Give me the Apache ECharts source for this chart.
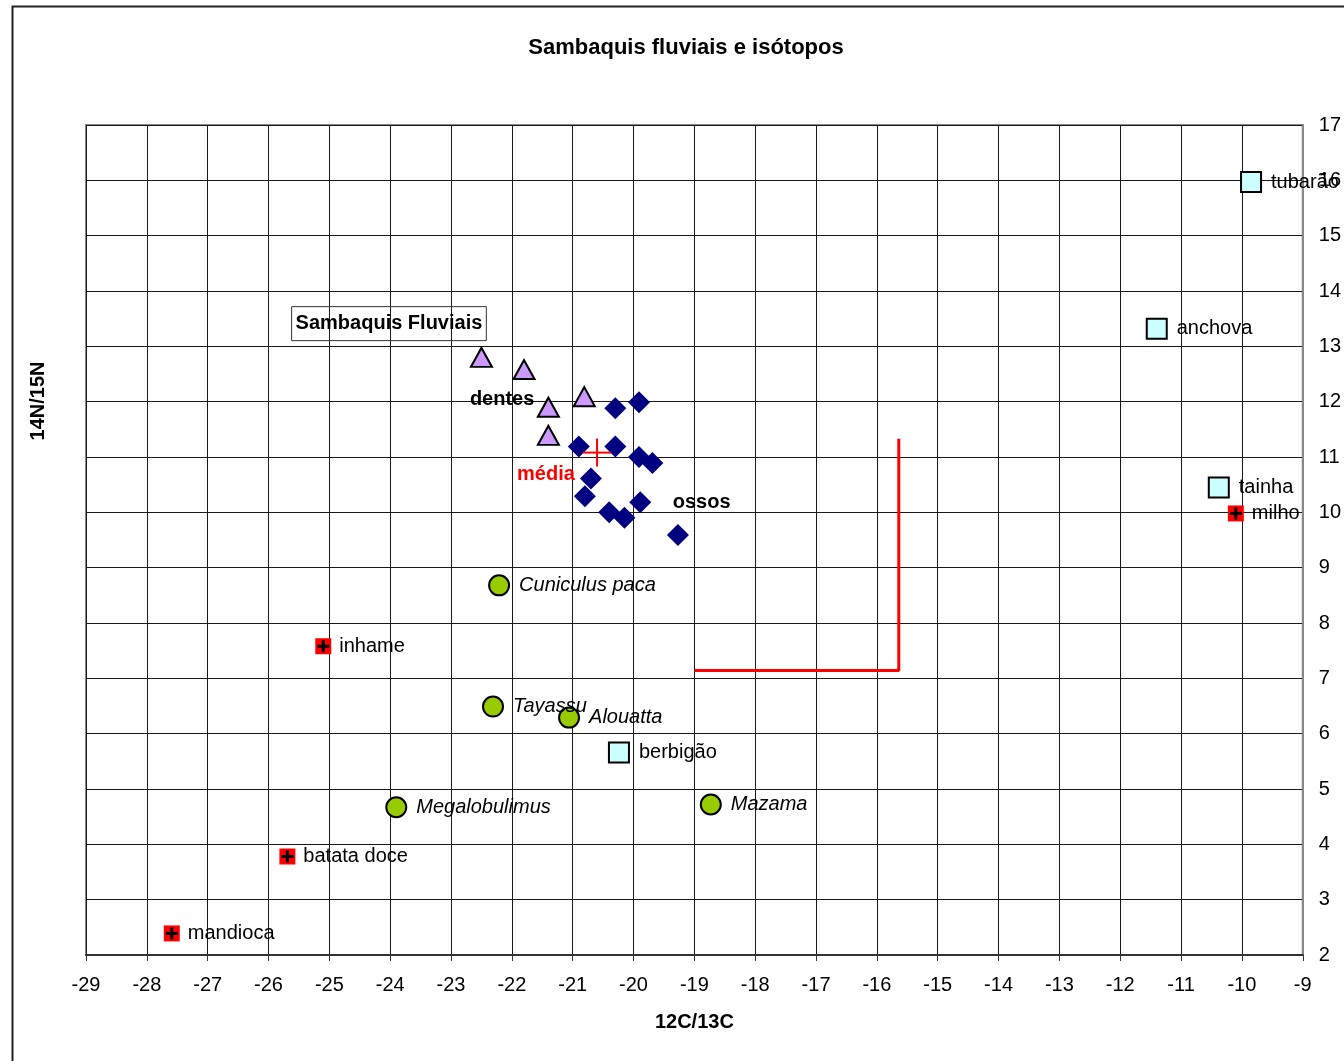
<!DOCTYPE html>
<html>
<head>
<meta charset="utf-8">
<script src="https://cdn.jsdelivr.net/npm/echarts@6/dist/echarts.min.js"></script>
<style>
html,body{margin:0;padding:0;background:#fff;}
#chart{width:1344px;height:1061px;}
</style>
</head>
<body>
<div id="chart"></div>
<script>
// ---- data ----
const fishNames = ['tubarão', 'anchova', 'tainha', 'berbigão'];
const fishX = [-9.85, -11.40, -10.38, -20.24];
const fishY = [15.97, 13.32, 10.45, 5.66];

const plantNames = ['milho', 'inhame', 'batata doce', 'mandioca'];
const plantX = [-10.10, -25.10, -25.69, -27.59];
const plantY = [9.98, 7.58, 3.78, 2.39];

const faunaNames = ['Cuniculus paca', 'Tayassu', 'Alouatta', 'Megalobulimus', 'Mazama'];
const faunaX = [-22.21, -22.31, -21.06, -23.90, -18.73];
const faunaY = [8.68, 6.49, 6.29, 4.67, 4.72];

const dentesX = [-22.50, -21.80, -21.40, -21.40, -20.81];
const dentesY = [12.80, 12.58, 11.90, 11.39, 12.09];

const ossosX = [-20.30, -19.91, -20.90, -20.30, -19.91, -19.69, -20.70, -20.80, -19.89, -20.40, -20.15, -19.27];
const ossosY = [11.88, 11.99, 11.19, 11.19, 11.00, 10.89, 10.61, 10.29, 10.18, 10.00, 9.90, 9.59];

const mediaX = [-20.60];
const mediaY = [11.08];

const lineX = [-19.0, -15.64, -15.64];
const lineY = [7.14, 7.14, 11.33];

const annoTexts = ['Sambaquis Fluviais', 'dentes', 'média', 'ossos'];
const annoX = [-24.02, -22.16, -21.44, -18.88];
const annoY = [13.41, 12.04, 10.68, 10.18];

const xTicks = { min: -29, max: -9, step: 1 };
const yTicks = { min: 2, max: 17, step: 1 };

// ---- helpers ----
const FONT = '"Liberation Sans", Arial, sans-serif';
function pts(xs, ys, names) {
  return xs.map((x, i) => ({ value: [x, ys[i]], name: names ? names[i] : '' }));
}

const chart = echarts.init(document.getElementById('chart'), null, { renderer: 'canvas' });

const labelRight = (italic) => ({
  show: true,
  position: 'right',
  distance: 9,
  formatter: p => p.name,
  color: '#000',
  fontSize: 20,
  fontFamily: FONT,
  fontStyle: italic ? 'italic' : 'normal'
});

const option = {
  animation: false,
  backgroundColor: '#fff',
  textStyle: { fontFamily: FONT },
  title: {
    text: 'Sambaquis fluviais e isótopos',
    left: 681,
    textAlign: 'center',
    top: 32,
    textStyle: { fontSize: 22, fontWeight: 'bold', color: '#000', fontFamily: FONT }
  },
  grid: {
    left: 86, top: 125, right: 37, bottom: 106,
    show: true, borderColor: '#888', borderWidth: 2, backgroundColor: 'transparent'
  },
  xAxis: {
    type: 'value',
    min: xTicks.min, max: xTicks.max, interval: xTicks.step,
    name: '12C/13C',
    nameLocation: 'middle',
    nameGap: 57,
    nameTextStyle: { fontSize: 20, fontWeight: 'bold', color: '#000', fontFamily: FONT },
    axisLine: { show: true, onZero: false, lineStyle: { color: '#333', width: 2 } },
    axisTick: { show: true, length: 6, lineStyle: { color: '#333', width: 1 } },
    axisLabel: { fontSize: 20, color: '#000', margin: 20, fontFamily: FONT },
    splitLine: { show: true, lineStyle: { color: '#1a1a1a', width: 1 } }
  },
  yAxis: {
    type: 'value',
    position: 'right',
    min: yTicks.min, max: yTicks.max, interval: yTicks.step,
    axisLine: { show: true, lineStyle: { color: '#888', width: 2 } },
    axisTick: { show: false },
    axisLabel: { fontSize: 20, color: '#000', margin: 16, align: 'left', fontFamily: FONT },
    splitLine: { show: true, lineStyle: { color: '#1a1a1a', width: 1 } }
  },
  graphic: [
    {
      type: 'rect', left: 10, top: 4, silent: true,
      shape: { width: 1400, height: 1100 },
      style: { fill: 'none', stroke: '#222', lineWidth: 2 }
    },
    {
      type: 'text', silent: true, x: 38, y: 401, rotation: Math.PI / 2,
      style: { text: '14N/15N', font: 'bold 20px "Liberation Sans", Arial, sans-serif', fill: '#000', align: 'center', verticalAlign: 'middle' }
    }
  ],
  series: [
    {
      name: 'linha', type: 'line', symbol: 'none',
      data: lineX.map((x, i) => [x, lineY[i]]),
      lineStyle: { color: '#ff0000', width: 3 }, z: 3
    },
    {
      name: 'ossos', type: 'scatter', symbol: 'diamond', symbolSize: 22,
      data: pts(ossosX, ossosY),
      itemStyle: { color: '#000080', opacity: 1 }, z: 4
    },
    {
      name: 'dentes', type: 'scatter', symbol: 'triangle', symbolSize: [21, 19],
      data: pts(dentesX, dentesY),
      itemStyle: { color: '#CC99FF', borderColor: '#000', borderWidth: 2, opacity: 1 }, z: 4
    },
    {
      name: 'peixes', type: 'scatter', symbol: 'rect', symbolSize: 20,
      data: pts(fishX, fishY, fishNames),
      itemStyle: { color: '#CCFFFF', borderColor: '#000', borderWidth: 2, opacity: 1 },
      label: labelRight(false), z: 4
    },
    {
      name: 'fauna', type: 'scatter', symbol: 'circle', symbolSize: 20,
      data: pts(faunaX, faunaY, faunaNames),
      itemStyle: { color: '#99CC00', borderColor: '#000', borderWidth: 2, opacity: 1 },
      label: labelRight(true), z: 4
    },
    {
      name: 'plantas', type: 'custom',
      data: pts(plantX, plantY, plantNames),
      renderItem: function (params, api) {
        const c = api.coord([api.value(0), api.value(1)]);
        const h = 8;
        return {
          type: 'group',
          children: [
            { type: 'rect', shape: { x: c[0] - h, y: c[1] - h, width: 2 * h, height: 2 * h }, style: { fill: '#ff0000' } },
            { type: 'line', shape: { x1: c[0] - 6, y1: c[1], x2: c[0] + 6, y2: c[1] }, style: { stroke: '#000', lineWidth: 3 } },
            { type: 'line', shape: { x1: c[0], y1: c[1] - 6, x2: c[0], y2: c[1] + 6 }, style: { stroke: '#000', lineWidth: 3 } },
            { type: 'text', style: { text: plantNames[params.dataIndex], x: c[0] + 16, y: c[1], verticalAlign: 'middle', font: '20px "Liberation Sans", Arial, sans-serif', fill: '#000' } }
          ]
        };
      },
      z: 5
    },
    {
      name: 'média', type: 'custom',
      data: pts(mediaX, mediaY),
      renderItem: function (params, api) {
        const c = api.coord([api.value(0), api.value(1)]);
        const h = 14;
        return {
          type: 'group',
          children: [
            { type: 'line', shape: { x1: c[0] - h, y1: c[1], x2: c[0] + h, y2: c[1] }, style: { stroke: '#ff0000', lineWidth: 2 } },
            { type: 'line', shape: { x1: c[0], y1: c[1] - h, x2: c[0], y2: c[1] + h }, style: { stroke: '#ff0000', lineWidth: 2 } }
          ]
        };
      },
      z: 6
    },
    {
      name: 'anotações', type: 'scatter', symbolSize: 0,
      itemStyle: { opacity: 1 },
      data: annoX.map((x, i) => ({
        value: [x, annoY[i]],
        name: annoTexts[i],
        label: i === 0
          ? { borderColor: '#333', borderWidth: 1, padding: [7, 4, 7, 4] }
          : (i === 2 ? { color: '#ff0000' } : {})
      })),
      label: {
        show: true, position: 'inside', formatter: p => p.name,
        fontSize: 20, fontWeight: 'bold', color: '#000', fontFamily: FONT
      },
      z: 7
    }
  ]
};
chart.setOption(option);
</script>
</body>
</html>
